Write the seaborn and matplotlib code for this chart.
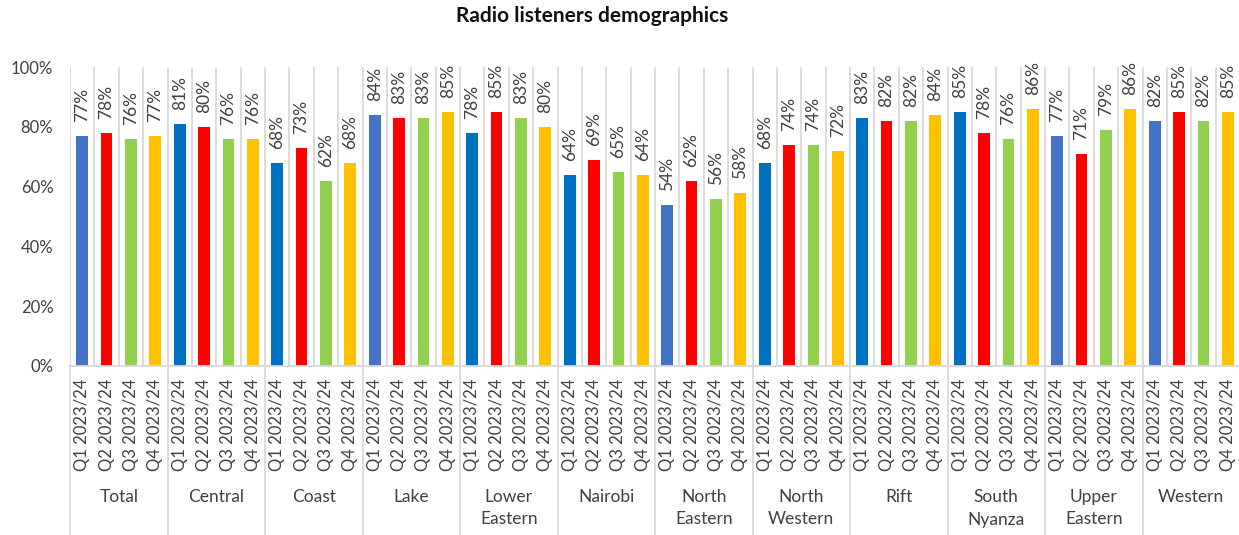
import matplotlib
matplotlib.use("Agg")
import matplotlib.pyplot as plt
import matplotlib.ticker as mticker
import matplotlib.transforms as mtransforms
import numpy as np
import pandas as pd
import seaborn as sns

# Regions (grouping level) and survey quarters (inner level)
regions = ["Total", "Central", "Coast", "Lake", "Lower\nEastern", "Nairobi",
           "North\nEastern", "North\nWestern", "Rift", "South\nNyanza",
           "Upper\nEastern", "Western"]
quarters = ["Q1 2023/24", "Q2 2023/24", "Q3 2023/24", "Q4 2023/24"]

# Share of radio listeners (%) per region and quarter
q1_values = [77, 81, 68, 84, 78, 64, 54, 68, 83, 85, 77, 82]
q2_values = [78, 80, 73, 83, 85, 69, 62, 74, 82, 78, 71, 85]
q3_values = [76, 76, 62, 83, 83, 65, 56, 74, 82, 76, 79, 82]
q4_values = [77, 76, 68, 85, 80, 64, 58, 72, 84, 86, 86, 85]

# Q1 bars use one of two blues depending on the region
q1_shades = ["light", "dark", "dark", "light", "dark", "dark",
             "light", "dark", "dark", "dark", "light", "light"]

BLUE_LIGHT = "#4472C4"
BLUE_DARK = "#0070C0"
RED = "#FF0000"
GREEN = "#92D050"
GOLD = "#FFC000"
GRID = "#d9d9d9"
TEXT = "#404040"
FS = 12

sns.set_theme(style="white")
plt.rcParams["font.family"] = ["Lato", "DejaVu Sans"]

series = [q1_values, q2_values, q3_values, q4_values]
rows = []
palette = {}
for r, region in enumerate(regions):
    for q, quarter in enumerate(quarters):
        slot = f"{region}|{quarter}"
        rows.append({"slot": slot, "value": series[q][r]})
        if q == 0:
            palette[slot] = BLUE_LIGHT if q1_shades[r] == "light" else BLUE_DARK
        else:
            palette[slot] = [None, RED, GREEN, GOLD][q]
df = pd.DataFrame(rows)
slots = list(df["slot"])

W, H = 1239, 535
fig = plt.figure(figsize=(W / 100, H / 100), dpi=100)
ax_left, ax_right, ax_top, ax_bottom = 70, 1240, 67, 366
ax = fig.add_axes([ax_left / W, 1 - ax_bottom / H,
                   (ax_right - ax_left) / W, (ax_bottom - ax_top) / H])

n = len(slots)
ax.vlines(np.arange(n + 1) - 0.5, 0, 100, color=GRID, lw=1.3, zorder=0)

sns.barplot(data=df, x="slot", y="value", hue="slot", order=slots,
            hue_order=slots, palette=palette, width=0.48, saturation=1,
            linewidth=0, legend=False, ax=ax, zorder=2)

for cont in ax.containers:
    ax.bar_label(cont, labels=[f"{v:.0f}%" for v in cont.datavalues],
                 rotation=90, padding=10, fontsize=FS + 0.5, color=TEXT)

ax.set_xlim(-0.5, n - 0.5)
ax.set_ylim(0, 100)
ax.set_yticks(np.arange(0, 101, 20))
ax.yaxis.set_major_formatter(mticker.FuncFormatter(lambda v, _: f"{v:.0f}%"))
ax.set_xticks(np.arange(n))
ax.set_xticklabels(quarters * len(regions), rotation=90, va="top")
ax.tick_params(axis="x", length=0, pad=9, labelsize=FS, labelcolor=TEXT)
ax.tick_params(axis="y", length=0, pad=12, labelsize=FS, labelcolor=TEXT)
ax.set_xlabel("")
ax.set_ylabel("")
for side in ("left", "top", "right"):
    ax.spines[side].set_visible(False)
ax.spines["bottom"].set_color(GRID)
ax.spines["bottom"].set_linewidth(1.3)

# Region names and group separators under the quarter labels
trans = mtransforms.blended_transform_factory(ax.transData, ax.transAxes)
axh = ax_bottom - ax_top
for r, region in enumerate(regions):
    ax.text(r * 4 + 1.5, -(489 - ax_bottom) / axh, region, transform=trans,
            ha="center", va="top", fontsize=FS + 0.5, color=TEXT,
            linespacing=1.5)
for b in range(len(regions) + 1):
    ax.axvline(b * 4 - 0.5, ymin=-(H - ax_bottom) / axh, ymax=0, color=GRID,
               lw=1.3, clip_on=False)

fig.text(592 / W, 1 - 16 / H, "Radio listeners demographics", ha="center",
         va="center", fontsize=15, fontweight="bold", color="#111111")

fig.savefig("out.png", dpi=100, facecolor="white")
